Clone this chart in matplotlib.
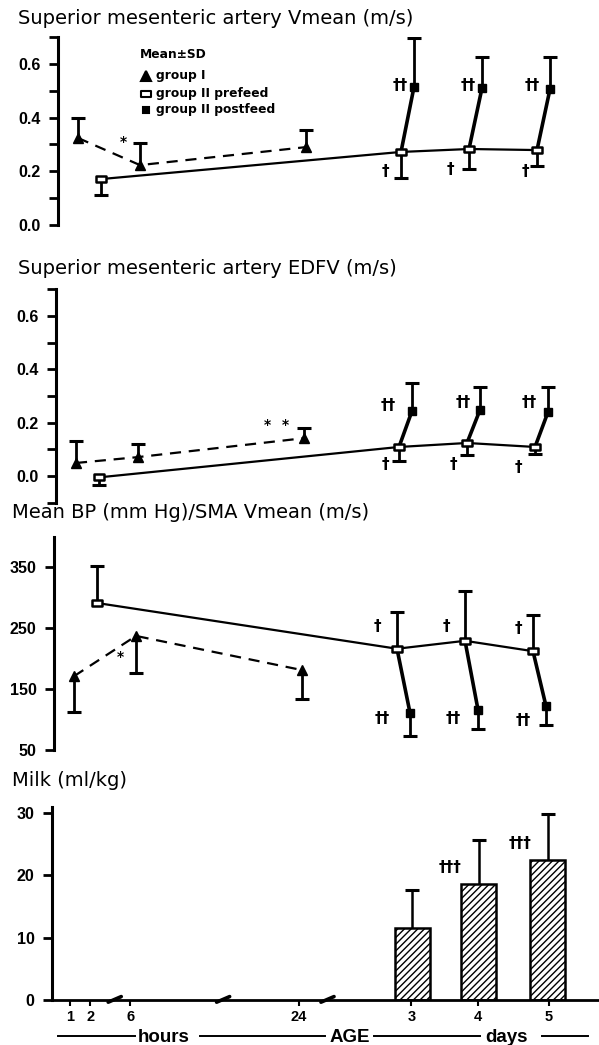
import matplotlib
matplotlib.use('Agg')
import matplotlib.pyplot as plt
from matplotlib.lines import Line2D
from matplotlib.path import Path

plt.rcParams['font.family'] = ['Liberation Sans', 'DejaVu Sans']
plt.rcParams['hatch.linewidth'] = 1.0

W, H = 599, 1045

# ---------------- data ----------------
time_labels = ['1', '2', '6', '24', '3', '4', '5']

# Superior mesenteric artery Vmean (m/s)
vmean_g1 = [0.324, 0.223, 0.29]
vmean_g1_sd = [0.076, 0.082, 0.064]
vmean_pre = [0.171, 0.272, 0.283, 0.279]
vmean_pre_sd = [0.059, 0.097, 0.075, 0.059]
vmean_post = [0.514, 0.51, 0.506]
vmean_post_sd = [0.183, 0.116, 0.12]

# Superior mesenteric artery EDFV (m/s)
edfv_g1 = [0.049, 0.071, 0.142]
edfv_g1_sd = [0.081, 0.049, 0.04]
edfv_pre = [-0.005, 0.109, 0.124, 0.109]
edfv_pre_sd = [0.03, 0.053, 0.045, 0.026]
edfv_post = [0.244, 0.248, 0.24]
edfv_post_sd = [0.105, 0.086, 0.094]

# Mean BP (mm Hg) / SMA Vmean (m/s)
bpv_g1 = [171, 237, 181]
bpv_g1_sd = [59, 61, 47]
bpv_pre = [291, 216, 229, 212]
bpv_pre_sd = [61, 60, 82, 59]
bpv_post = [111, 116, 122]
bpv_post_sd = [38, 32, 31]

# Milk (ml/kg)
milk = [11.6, 18.6, 22.5]
milk_sd = [6.1, 7.1, 7.4]

# ---------------- layout ----------------
tick_pos = [70, 90, 130, 298, 410, 476, 547]
g1_pos = [74, 136, 302]
pre_pos = [97, 397, 465, 533]
post_pos = [410, 478, 546]
bar_pos = [411, 477, 546]

fig = plt.figure(figsize=(W / 100, H / 100), dpi=100)
TICKFONT = dict(fontsize=11.5, fontweight='bold')


def fx(px):
    return px / W


def fy(py):
    return 1 - py / H


def make_axes(left_px, top_px, bottom_px, ylim):
    ax = fig.add_axes([fx(left_px), fy(bottom_px), fx(W - left_px), (bottom_px - top_px) / H])
    ax.set_xlim(left_px, W)
    ax.set_ylim(*ylim)
    for s in ['top', 'right', 'bottom']:
        ax.spines[s].set_visible(False)
    ax.spines['left'].set_linewidth(2.2)
    ax.set_xticks([])
    ax.tick_params(axis='y', which='both', width=2, length=6.5, pad=6)
    return ax


def errbars(ax, x, y, sd, up=True, lw=2.0):
    lo = [0] * len(sd) if up else sd
    hi = sd if up else [0] * len(sd)
    ax.errorbar(x, y, yerr=[lo, hi], fmt='none', ecolor='black',
                elinewidth=lw, capsize=0, zorder=2)
    ends = [v + s if up else v - s for v, s in zip(y, sd)]
    ax.plot(x, ends, linestyle='none', marker='_', markersize=10,
            markeredgewidth=2.2, color='black', zorder=2)


rect_marker = Path([(-1, -0.7), (1, -0.7), (1, 0.7), (-1, 0.7), (-1, -0.7)],
                   [Path.MOVETO, Path.LINETO, Path.LINETO, Path.LINETO, Path.CLOSEPOLY])


def line_panel(ax, shift, g1, g1sd, pre, presd, post, postsd, g1_up, pre_up, post_up):
    xg = [p + shift for p in g1_pos]
    xp = [p + shift for p in pre_pos]
    xq = [p + shift for p in post_pos]
    errbars(ax, xg, g1, g1sd, up=g1_up)
    errbars(ax, xp, pre, presd, up=pre_up)
    errbars(ax, xq, post, postsd, up=post_up)
    ax.plot(xg, g1, color='black', lw=1.6, linestyle=(0, (5, 3.5)), zorder=3)
    ax.plot(xp, pre, color='black', lw=1.6, zorder=3)
    for i in range(3):
        ax.plot([xp[i + 1], xq[i]], [pre[i + 1], post[i]], color='black', lw=2.6, zorder=3)
    ax.plot(xg, g1, linestyle='none', marker='^', markersize=7.5, color='black', zorder=4)
    ax.plot(xp, pre, linestyle='none', marker=rect_marker, markersize=7,
            markerfacecolor='white', markeredgecolor='black', markeredgewidth=1.8, zorder=5)
    ax.plot(xq, post, linestyle='none', marker='s', markersize=5.5, color='black', zorder=5)


def ann(ax, x, y, s, size=11):
    ax.text(x, y, s, ha='center', va='center', fontsize=size, fontweight='bold',
            family=['DejaVu Sans'])


def set_yt(ax, major, labels, minor=None):
    ax.set_yticks(major)
    ax.set_yticklabels(labels, **TICKFONT)
    if minor:
        ax.set_yticks(minor, minor=True)


# ---------------- panel 1 ----------------
ax1 = make_axes(58, 37, 225, (0, 0.7))
set_yt(ax1, [0.0, 0.2, 0.4, 0.6], ['0.0', '0.2', '0.4', '0.6'], [0.1, 0.3, 0.5, 0.7])
line_panel(ax1, 4, vmean_g1, vmean_g1_sd, vmean_pre, vmean_pre_sd,
           vmean_post, vmean_post_sd, True, False, True)
ann(ax1, 123, 0.31, '*', 10)
for x in [400, 468, 532]:
    ann(ax1, x, 0.52, '\u2020\u2020')
for x, y in [(385, 0.2), (450, 0.205), (525, 0.2)]:
    ann(ax1, x, y, '\u2020')

# legend
LEGFONT = dict(fontsize=8.8, fontweight='bold', family=['DejaVu Sans'], va='center')
fig.text(fx(140), fy(55), 'Mean\u00b1SD', **LEGFONT)
leg_rows = [('group I', '^', 'black', 76, 6.5), ('group II prefeed', rect_marker, 'white', 94, 6.5),
            ('group II postfeed', 's', 'black', 110, 5)]
for lab, m, fc, py, ms in leg_rows:
    fig.add_artist(Line2D([fx(146)], [fy(py)], marker=m, markersize=ms,
                          markerfacecolor=fc, markeredgecolor='black', markeredgewidth=1.5,
                          linestyle='none', transform=fig.transFigure))
    fig.text(fx(156), fy(py), lab, **LEGFONT)

# ---------------- panel 2 ----------------
ax2 = make_axes(56, 289.4, 502.7, (-0.1, 0.7))
set_yt(ax2, [0.0, 0.2, 0.4, 0.6], ['0.0', '0.2', '0.4', '0.6'], [-0.1, 0.1, 0.3, 0.5, 0.7])
line_panel(ax2, 2, edfv_g1, edfv_g1_sd, edfv_pre, edfv_pre_sd,
           edfv_post, edfv_post_sd, True, False, True)
ann(ax2, 267, 0.19, '*', 10)
ann(ax2, 285, 0.19, '*', 10)
for x, y in [(388, 0.266), (463, 0.274), (529, 0.274)]:
    ann(ax2, x, y, '\u2020\u2020')
for x, y in [(385, 0.045), (453, 0.045), (518, 0.033)]:
    ann(ax2, x, y, '\u2020')

# ---------------- panel 3 ----------------
ax3 = make_axes(54, 536.5, 750, (50, 400))
set_yt(ax3, [50, 150, 250, 350], ['50', '150', '250', '350'])
line_panel(ax3, 0, bpv_g1, bpv_g1_sd, bpv_pre, bpv_pre_sd,
           bpv_post, bpv_post_sd, False, True, False)
ann(ax3, 120, 202, '*', 10)
for x, y in [(377, 252), (446, 252), (518, 250)]:
    ann(ax3, x, y, '\u2020')
for x, y in [(382, 102), (453, 102), (523, 99)]:
    ann(ax3, x, y, '\u2020\u2020')

# ---------------- panel 4 ----------------
ax4 = make_axes(52, 806.9, 1000, (0, 31))
set_yt(ax4, [0, 10, 20, 30], ['0', '10', '20', '30'])
ax4.spines['bottom'].set_visible(True)
ax4.spines['bottom'].set_linewidth(2.0)
ax4.set_xlim(52, 597)
ax4.set_xticks(tick_pos)
ax4.set_xticklabels(time_labels, fontsize=10.5, fontweight='bold')
ax4.tick_params(axis='x', width=1.5, length=4, pad=3)
ax4.bar(bar_pos, milk, width=35, color='white', edgecolor='black', linewidth=1.8,
        hatch='/////', zorder=2)
errbars(ax4, bar_pos, milk, milk_sd, up=True, lw=1.8)
for x, y in [(449, 21.2), (518, 25.2)]:
    ann(ax4, x, y, '\u2020\u2020\u2020')
# axis break marks
for bx in [115, 223, 327]:
    ax4.plot([bx - 7, bx + 6], [-0.35, 0.55], color='black', lw=2.6,
             solid_capstyle='round', clip_on=False, zorder=5)

# ---------------- titles ----------------
titles = [('Superior mesenteric artery Vmean (m/s)', 18, 18),
          ('Superior mesenteric artery EDFV (m/s)', 18, 268),
          ('Mean BP (mm Hg)/SMA Vmean (m/s)', 12, 512),
          ('Milk (ml/kg)', 12, 780)]
for t, px, py in titles:
    fig.text(fx(px), fy(py), t, fontsize=14, va='center', ha='left', family=['DejaVu Sans'])

# ---------------- AGE legend line ----------------
yline = 1036
for a, b in [(58, 135), (200, 325), (374, 480), (542, 588)]:
    fig.add_artist(Line2D([fx(a), fx(b)], [fy(yline), fy(yline)], color='black', lw=1.4,
                          transform=fig.transFigure))
for t, px in [('hours', 164), ('AGE', 350), ('days', 507)]:
    fig.text(fx(px), fy(yline + 1), t, fontsize=13.5, fontweight='bold', ha='center', va='center')

fig.savefig('out.png', dpi=100)
